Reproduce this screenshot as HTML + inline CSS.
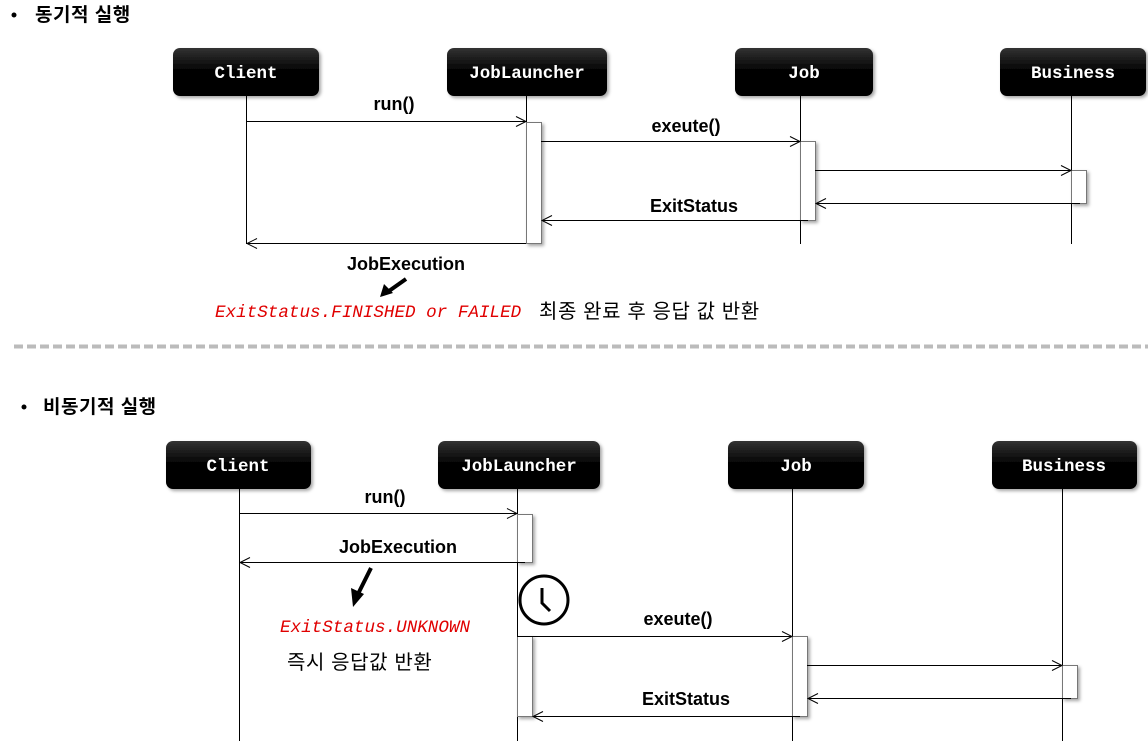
<!DOCTYPE html>
<html><head><meta charset="utf-8"><style>
html,body{margin:0;padding:0;background:#fff;}
svg{display:block;}
.b{font-family:"Liberation Mono","DejaVu Sans Mono",monospace;font-weight:bold;font-size:17.5px;fill:#fff;text-anchor:middle;}
.l{font-family:"Liberation Sans","Noto Sans CJK KR",sans-serif;font-weight:bold;font-size:18px;fill:#000;text-anchor:middle;}
.r{font-family:"Liberation Mono",monospace;font-style:italic;font-size:17.6px;fill:#e00000;}
.k{font-family:"Liberation Sans","Noto Sans CJK KR",sans-serif;font-size:20px;fill:#000;letter-spacing:0.6px;}
.h{font-family:"Liberation Sans","Noto Sans CJK KR",sans-serif;font-weight:bold;font-size:19px;fill:#000;letter-spacing:0.5px;}
</style></head><body>
<svg width="1148" height="751" viewBox="0 0 1148 751" xmlns="http://www.w3.org/2000/svg">
<defs>
<linearGradient id="g" x1="0" y1="0" x2="0" y2="1"><stop offset="0" stop-color="#333"/><stop offset="0.5" stop-color="#000"/><stop offset="1" stop-color="#000"/></linearGradient>
<filter id="s" x="-20%" y="-20%" width="150%" height="150%"><feDropShadow dx="2" dy="2" stdDeviation="1.5" flood-color="#000" flood-opacity="0.35"/></filter>
</defs>
<circle cx="14" cy="15" r="2.5" fill="#000"/>
<text x="35" y="21" class="h">동기적 실행</text>
<circle cx="24" cy="407" r="2.5" fill="#000"/>
<text x="43" y="413" class="h">비동기적 실행</text>

<!-- TOP -->
<g filter="url(#s)">
<rect x="173" y="48" width="146" height="48" rx="7" fill="url(#g)"/>
<rect x="447" y="48" width="160" height="48" rx="7" fill="url(#g)"/>
<rect x="735" y="48" width="138" height="48" rx="7" fill="url(#g)"/>
<rect x="1000" y="48" width="146" height="48" rx="7" fill="url(#g)"/>
</g>
<text x="246" y="78" class="b">Client</text>
<text x="527" y="78" class="b">JobLauncher</text>
<text x="804" y="78" class="b">Job</text>
<text x="1073" y="78" class="b">Business</text>
<g stroke="#000" stroke-width="1" fill="none">
<line x1="246.5" y1="96" x2="246.5" y2="244"/>
<line x1="526.5" y1="96" x2="526.5" y2="244"/>
<line x1="800.5" y1="96" x2="800.5" y2="244"/>
<line x1="1071.5" y1="96" x2="1071.5" y2="244"/>
</g>
<g filter="url(#s)" fill="#fff" stroke="#777">
<rect x="526.5" y="122.5" width="15" height="121"/>
<rect x="800.5" y="141.5" width="15" height="79"/>
<rect x="1071.5" y="170.5" width="15" height="33"/>
</g>
<g stroke="#000" stroke-width="1" fill="none">
<line x1="246" y1="121.5" x2="526" y2="121.5"/><path d="M516 116.5 L526 121.5 L516 126.5"/>
<line x1="541" y1="141.5" x2="800" y2="141.5"/><path d="M790 136.5 L800 141.5 L790 146.5"/>
<line x1="815" y1="170.5" x2="1071" y2="170.5"/><path d="M1061 165.5 L1071 170.5 L1061 175.5"/>
<line x1="1080" y1="203.5" x2="816" y2="203.5"/><path d="M826 198.5 L816 203.5 L826 208.5"/>
<line x1="808" y1="220.5" x2="542" y2="220.5"/><path d="M552 215.5 L542 220.5 L552 225.5"/>
<line x1="526" y1="243.5" x2="247" y2="243.5"/><path d="M257 238.5 L247 243.5 L257 248.5"/>
</g>
<text x="394" y="110" class="l">run()</text>
<text x="686" y="132" class="l">exeute()</text>
<text x="694" y="212" class="l">ExitStatus</text>
<text x="406" y="270" class="l">JobExecution</text>
<line x1="406" y1="279" x2="389" y2="291" stroke="#000" stroke-width="4"/>
<path d="M380 297 L384 284 L393 293 Z" fill="#000"/>
<text x="215" y="317" class="r">ExitStatus.FINISHED or FAILED</text>
<text x="539" y="318" class="k">최종 완료 후 응답 값 반환</text>

<line x1="14" y1="346.5" x2="1148" y2="346.5" stroke="#bbb" stroke-width="4" stroke-dasharray="9,4"/>

<!-- BOTTOM -->
<g filter="url(#s)">
<rect x="166" y="441" width="145" height="48" rx="7" fill="url(#g)"/>
<rect x="438" y="441" width="162" height="48" rx="7" fill="url(#g)"/>
<rect x="728" y="441" width="136" height="48" rx="7" fill="url(#g)"/>
<rect x="992" y="441" width="145" height="48" rx="7" fill="url(#g)"/>
</g>
<text x="238" y="471" class="b">Client</text>
<text x="519" y="471" class="b">JobLauncher</text>
<text x="796" y="471" class="b">Job</text>
<text x="1064" y="471" class="b">Business</text>
<g stroke="#000" stroke-width="1" fill="none">
<line x1="239.5" y1="489" x2="239.5" y2="741"/>
<line x1="517.5" y1="489" x2="517.5" y2="741"/>
<line x1="792.5" y1="489" x2="792.5" y2="741"/>
<line x1="1062.5" y1="489" x2="1062.5" y2="741"/>
</g>
<g filter="url(#s)" fill="#fff" stroke="#777">
<rect x="517.5" y="514.5" width="15" height="48"/>
<rect x="517.5" y="636.5" width="15" height="80"/>
<rect x="792.5" y="636.5" width="15" height="80"/>
<rect x="1062.5" y="665.5" width="15" height="33"/>
</g>
<g stroke="#000" stroke-width="1" fill="none">
<line x1="239" y1="513.5" x2="517" y2="513.5"/><path d="M507 508.5 L517 513.5 L507 518.5"/>
<line x1="525" y1="562.5" x2="240" y2="562.5"/><path d="M250 557.5 L240 562.5 L250 567.5"/>
<line x1="517" y1="636.5" x2="792" y2="636.5"/><path d="M782 631.5 L792 636.5 L782 641.5"/>
<line x1="807" y1="665.5" x2="1062" y2="665.5"/><path d="M1052 660.5 L1062 665.5 L1052 670.5"/>
<line x1="1071" y1="698.5" x2="808" y2="698.5"/><path d="M818 693.5 L808 698.5 L818 703.5"/>
<line x1="800" y1="716.5" x2="533" y2="716.5"/><path d="M543 711.5 L533 716.5 L543 721.5"/>
</g>
<text x="385" y="503" class="l">run()</text>
<text x="398" y="553" class="l">JobExecution</text>
<text x="678" y="625" class="l">exeute()</text>
<text x="686" y="705" class="l">ExitStatus</text>
<line x1="371" y1="568" x2="359" y2="592" stroke="#000" stroke-width="4"/>
<path d="M353 607 L351 588 L364 594 Z" fill="#000"/>
<circle cx="544" cy="600" r="24" fill="#fff" stroke="#000" stroke-width="3"/>
<path d="M542 588 L542 603 L550 611" fill="none" stroke="#000" stroke-width="3"/>
<text x="280" y="632" class="r">ExitStatus.UNKNOWN</text>
<text x="287" y="669" class="k">즉시 응답값 반환</text>
</svg>
</body></html>
